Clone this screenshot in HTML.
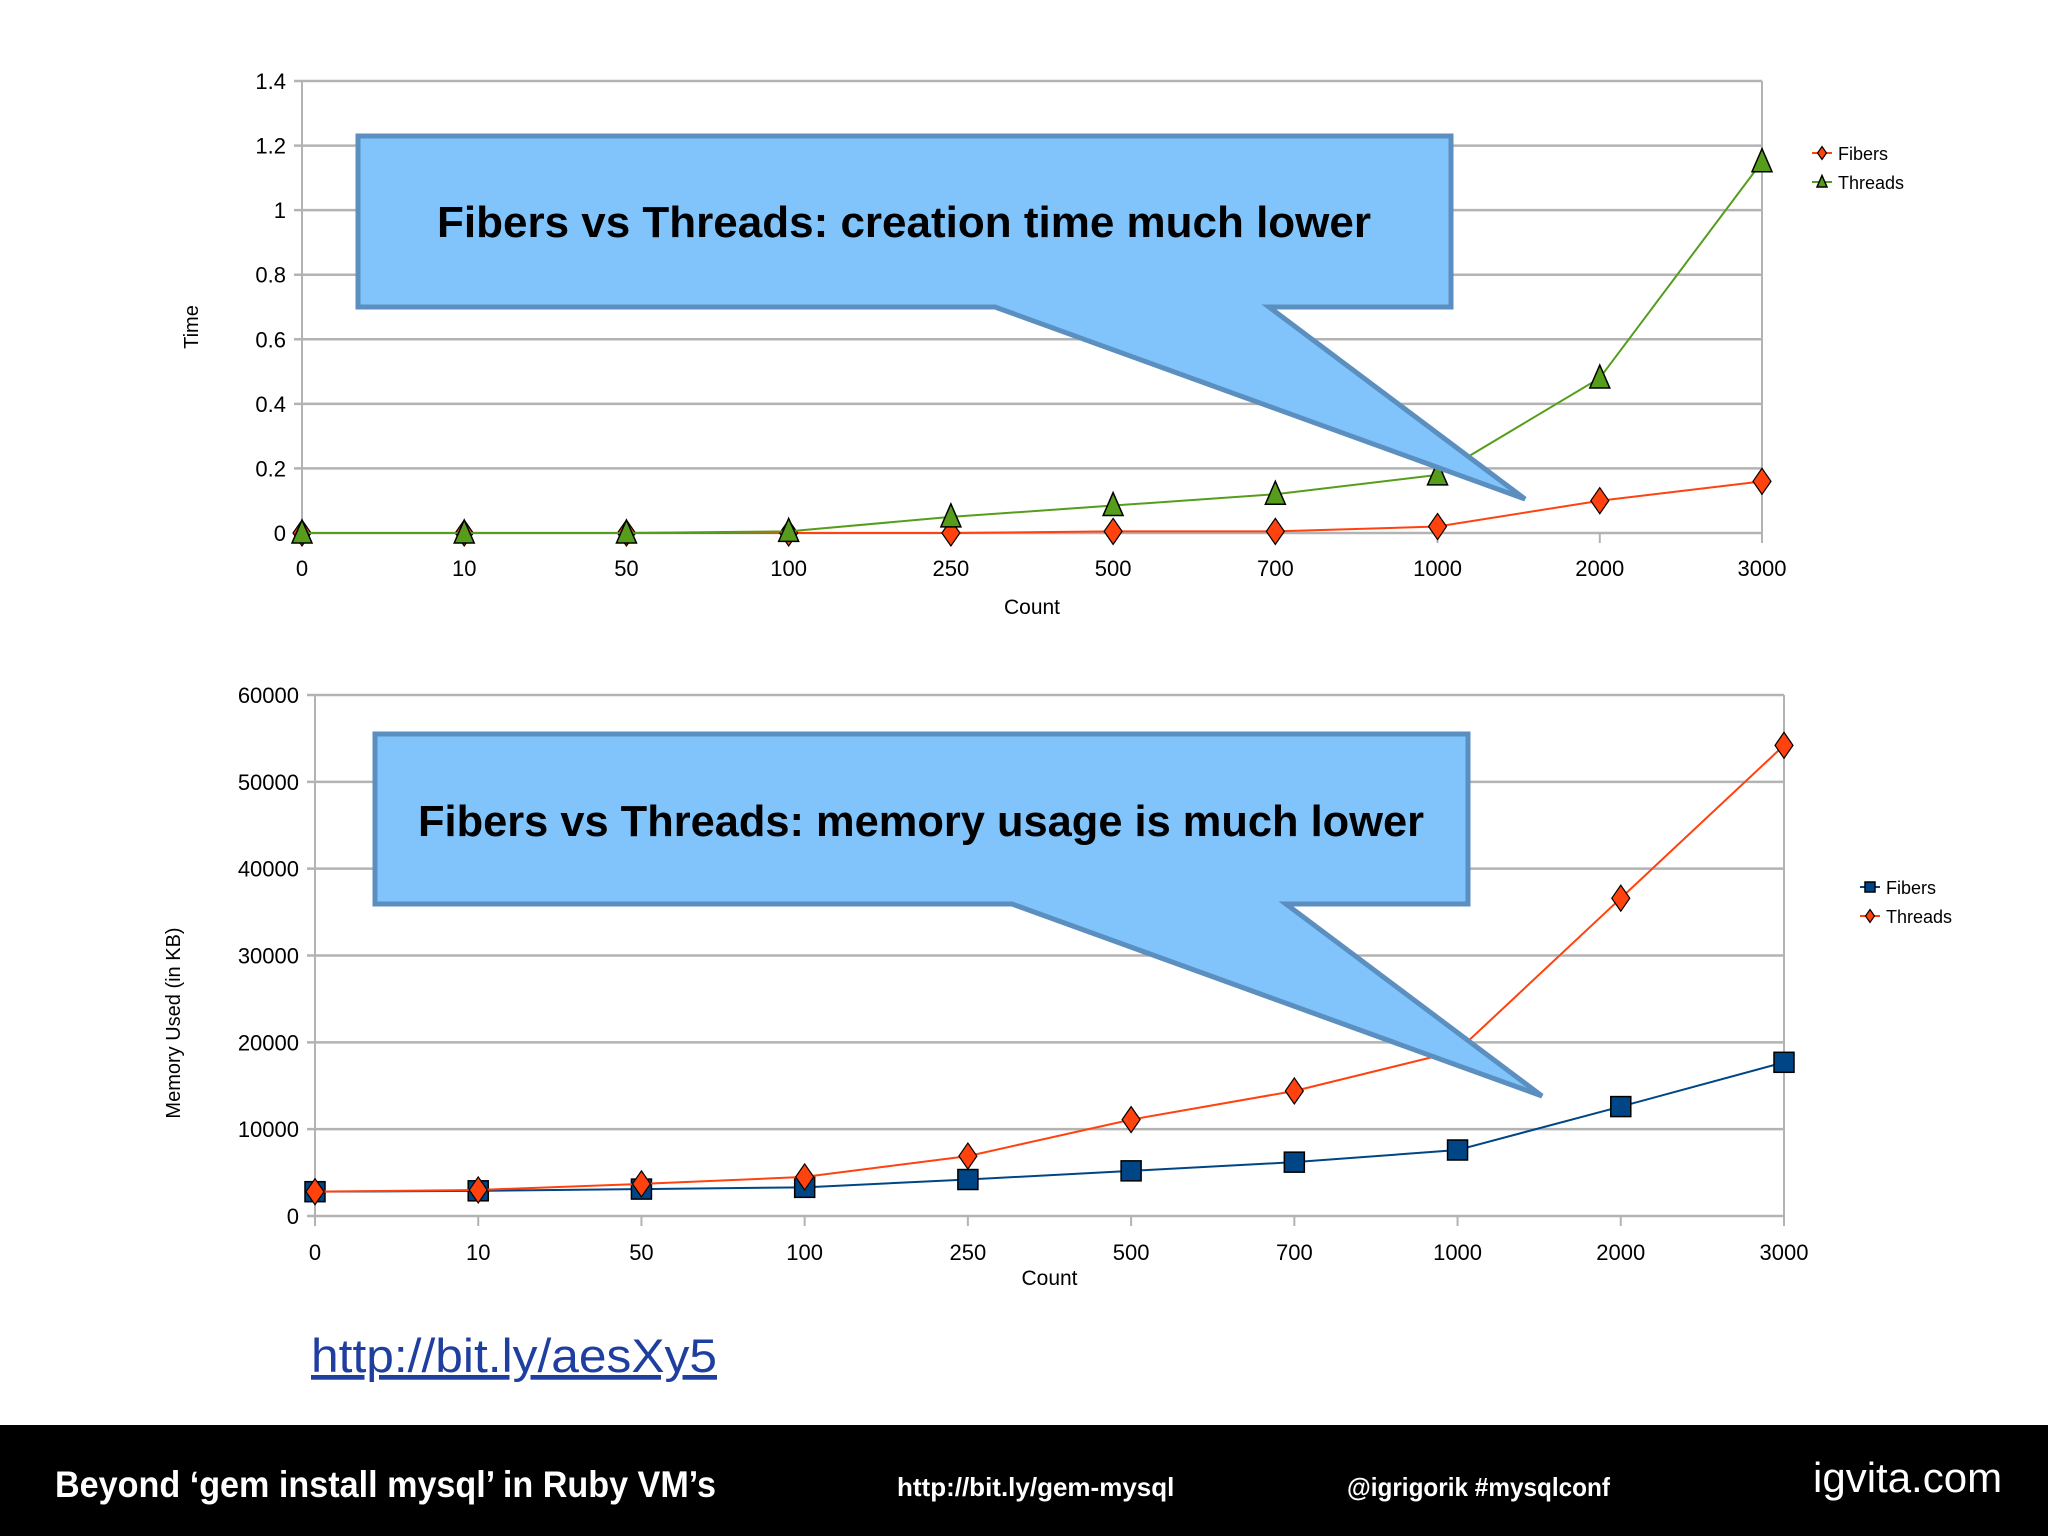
<!DOCTYPE html>
<html><head><meta charset="utf-8"><style>
body{margin:0;width:2048px;height:1536px;background:#fff;overflow:hidden;font-family:"Liberation Sans",sans-serif}
svg{position:absolute;left:0;top:0}
</style></head><body>
<svg id="s" width="2048" height="1536">
<rect x="0" y="1425" width="2048" height="111" fill="#000"/>
<text x="55" y="1497" fill="#fff" font-size="37" font-weight="bold" textLength="661" lengthAdjust="spacingAndGlyphs">Beyond ‘gem install mysql’ in Ruby VM’s</text>
<text x="897" y="1496" fill="#fff" font-size="26" font-weight="bold">http://bit.ly/gem-mysql</text>
<text x="1347" y="1496" fill="#fff" font-size="26" font-weight="bold" textLength="263" lengthAdjust="spacingAndGlyphs">@igrigorik #mysqlconf</text>
<text x="1813" y="1492" fill="#fff" font-size="42">igvita.com</text>
<text x="311" y="1372" fill="#1f3fa0" font-size="47" text-decoration="underline" textLength="406" lengthAdjust="spacingAndGlyphs">http://bit.ly/aesXy5</text>
</svg>
<script>
const categories=["0","10","50","100","250","500","700","1000","2000","3000"];
const timeThreads=[0,0,0,0.005,0.05,0.085,0.12,0.18,0.48,1.15];
const timeFibers=[0,0,0,0,0,0.005,0.005,0.02,0.1,0.16];
const timeTicks=["0","0.2","0.4","0.6","0.8","1","1.2","1.4"];
const memFibers=[2800,2900,3100,3300,4200,5200,6200,7600,12600,17700];
const memThreads=[2800,3000,3700,4500,6900,11100,14400,19000,36600,54200];
const memTicks=["0","10000","20000","30000","40000","50000","60000"];
const NS="http://www.w3.org/2000/svg";
const svg=document.getElementById('s');
function el(t,a,p){const e=document.createElementNS(NS,t);for(const k in a)e.setAttribute(k,a[k]);(p||svg).appendChild(e);return e;}
function chart(cfg){
  const g=el('g',{});
  
  
  const xs=i=>cfg.x0+(cfg.x1-cfg.x0)*i/(categories.length-1);
  const ys=v=>cfg.y0-(cfg.y0-cfg.y1)*v/cfg.max;
  cfg.ticks.forEach(t=>{const v=parseFloat(t),y=ys(v);
    const l=el('line',{x1:cfg.x0-8,x2:cfg.x1,y1:y,y2:y,stroke:'#b3b3b3','stroke-width':2.5},g);
    
    const tx=el('text',{x:cfg.x0-16,y:y+8,'text-anchor':'end','font-size':22,fill:'#000'},g);tx.textContent=t;
    });
  el('line',{x1:cfg.x0,x2:cfg.x0,y1:cfg.y1,y2:cfg.y0+8,stroke:'#b3b3b3','stroke-width':2},g);
  el('line',{x1:cfg.x1,x2:cfg.x1,y1:cfg.y1,y2:cfg.y0+8,stroke:'#b3b3b3','stroke-width':2},g);
  categories.forEach((c,i)=>{const x=xs(i);
    el('line',{x1:x,x2:x,y1:cfg.y0,y2:cfg.y0+10,stroke:'#b3b3b3','stroke-width':2},g);
    const tx=el('text',{x:x,y:cfg.xl,'text-anchor':'middle','font-size':22,fill:'#000'},g);tx.textContent=c;
    });
  const xt=el('text',{x:(cfg.x0+cfg.x1)/2,y:cfg.xt,'text-anchor':'middle','font-size':21},g);xt.textContent='Count';
  
  const yt=el('text',{x:cfg.ytx,y:cfg.yty,'text-anchor':'middle','font-size':20,transform:`rotate(-90 ${cfg.ytx} ${cfg.yty})`},g);yt.textContent=cfg.ytitle;
  
  cfg.series.forEach((s,si)=>{
    const sg=el('g',{},g);
    
    el('polyline',{points:s.data.map((v,i)=>xs(i)+','+ys(v)).join(' '),fill:'none',stroke:s.color,'stroke-width':2},sg);
    s.data.forEach((v,i)=>{const m=marker(s.shape,xs(i),ys(v),s.fill,sg,1);
      });
    const ly=cfg.ly+si*29;
    el('line',{x1:cfg.lx-8,x2:cfg.lx+12,y1:ly,y2:ly,stroke:s.color,'stroke-width':2},g);
    marker(s.shape,cfg.lx+2,ly,s.fill,g,0.5);
    const lt=el('text',{x:cfg.lx+18,y:ly+7,'font-size':18},g);lt.textContent=s.label;
    
  });
  el('polygon',{points:cfg.callout,fill:'#80c4fb',stroke:'#5b8fc0','stroke-width':5},g);
  const ct=el('text',{x:cfg.ctx,y:cfg.cty,'text-anchor':'middle','font-size':44,'font-weight':'bold',textLength:cfg.ctw,lengthAdjust:'spacingAndGlyphs'},g);
  ct.textContent=cfg.ctext;
}
function marker(shape,x,y,fill,p,s){
  if(shape==='tri')return el('polygon',{points:`${x},${y-13*s} ${x+10*s},${y+10*s} ${x-10*s},${y+10*s}`,fill:fill,stroke:'#000','stroke-width':1.5},p);
  if(shape==='dia')return el('polygon',{points:`${x},${y-13*s} ${x+9*s},${y} ${x},${y+13*s} ${x-9*s},${y}`,fill:fill,stroke:'#000','stroke-width':1.2},p);
  return el('rect',{x:x-10*s,y:y-10*s,width:20*s,height:20*s,fill:fill,stroke:'#000','stroke-width':1.5},p);
}
chart({name:'time-chart',x0:302,x1:1762,y0:533,y1:81,max:1.4,ticks:timeTicks,xl:576,xt:614,ytx:198,yty:327,ytitle:'Time',lx:1820,ly:153,
  series:[{label:'Fibers',data:timeFibers,color:'#ff420e',fill:'#ff420e',shape:'dia'},{label:'Threads',data:timeThreads,color:'#579d1c',fill:'#579d1c',shape:'tri'}],
  callout:'358,136 1451,136 1451,307 1269,307 1525,499 995,307 358,307',ctx:904,cty:237,ctw:934,ctext:'Fibers vs Threads: creation time much lower'});
chart({name:'memory-chart',x0:315,x1:1784,y0:1216,y1:695,max:60000,ticks:memTicks,xl:1260,xt:1285,ytx:180,yty:1023,ytitle:'Memory Used (in KB)',lx:1868,ly:887,
  series:[{label:'Fibers',data:memFibers,color:'#004586',fill:'#004586',shape:'sq'},{label:'Threads',data:memThreads,color:'#ff420e',fill:'#ff420e',shape:'dia'}],
  callout:'375,734 1468,734 1468,904 1286,904 1542,1096 1012,904 375,904',ctx:921,cty:836,ctw:1006,ctext:'Fibers vs Threads: memory usage is much lower'});
</script>
</body></html>
